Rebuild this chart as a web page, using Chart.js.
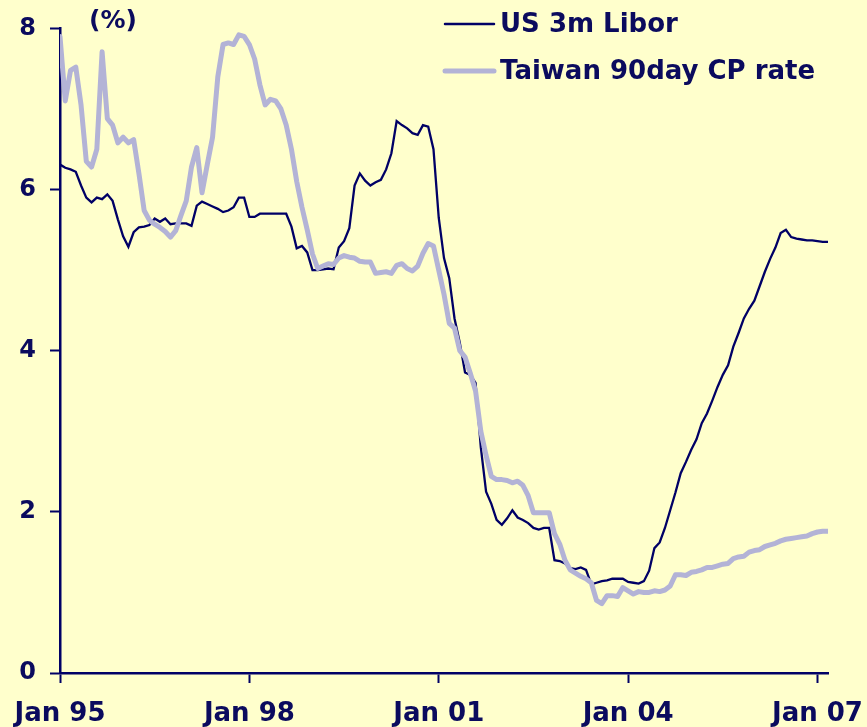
<!DOCTYPE html>
<html>
<head>
<meta charset="utf-8">
<script src="https://cdn.jsdelivr.net/npm/chart.js@4.4.1/dist/chart.umd.min.js"></script>
<style>
  html, body { margin: 0; padding: 0; background: #ffffcc; }
  canvas { display: block; }
</style>
</head>
<body>
<canvas id="chart" width="867" height="727"></canvas>
<script>
// monthly readings, Jan 95 .. Mar 07
var seriesNames = ['US 3m Libor', 'Taiwan 90day CP rate'];
var tickMonths = [0, 36, 72, 108, 144];
var tickLabels = ['Jan 95', 'Jan 98', 'Jan 01', 'Jan 04', 'Jan 07'];
var yTicks = [0, 2, 4, 6, 8];

var libor = [
  6.31, 6.27, 6.25, 6.22, 6.05, 5.90, 5.84, 5.90, 5.88, 5.94, 5.86, 5.63,
  5.42, 5.29, 5.47, 5.53, 5.54, 5.56, 5.64, 5.60, 5.64, 5.57, 5.58, 5.58,
  5.58, 5.55, 5.80, 5.85, 5.82, 5.79, 5.76, 5.72, 5.74, 5.78, 5.90, 5.90,
  5.66, 5.66, 5.70, 5.70, 5.70, 5.70, 5.70, 5.70, 5.54, 5.27, 5.30, 5.22,
  5.00, 5.00, 5.01, 5.02, 5.01, 5.28, 5.36, 5.52, 6.05, 6.20, 6.11, 6.05,
  6.09, 6.12, 6.25, 6.45, 6.85, 6.80, 6.76, 6.70, 6.68, 6.80, 6.78, 6.50,
  5.65, 5.15, 4.90, 4.40, 4.10, 3.73, 3.70, 3.60, 2.80, 2.25, 2.10, 1.90,
  1.84, 1.92, 2.02, 1.93, 1.90, 1.86, 1.80, 1.78, 1.80, 1.80, 1.40, 1.39,
  1.36, 1.30, 1.29, 1.31, 1.28, 1.10, 1.12, 1.14, 1.15, 1.17, 1.17, 1.17,
  1.13, 1.12, 1.11, 1.14, 1.27, 1.55, 1.62, 1.80, 2.02, 2.24, 2.48, 2.62,
  2.77, 2.90, 3.10, 3.22, 3.38, 3.55, 3.70, 3.82, 4.05, 4.22, 4.40, 4.52,
  4.62, 4.80, 4.98, 5.14, 5.28, 5.46, 5.50, 5.41, 5.39, 5.38, 5.37, 5.37,
  5.36, 5.35, 5.35
];

var cpRate = [
  7.90, 7.10, 7.48, 7.52, 7.05, 6.35, 6.28, 6.50, 7.71, 6.88, 6.80, 6.58,
  6.65, 6.58, 6.62, 6.20, 5.74, 5.62, 5.57, 5.53, 5.48, 5.41, 5.49, 5.68,
  5.86, 6.28, 6.52, 5.96, 6.31, 6.65, 7.40, 7.80, 7.82, 7.80, 7.92, 7.90,
  7.80, 7.62, 7.30, 7.05, 7.12, 7.10, 7.00, 6.80, 6.50, 6.10, 5.78, 5.50,
  5.20, 5.02, 5.05, 5.08, 5.07, 5.15, 5.18, 5.16, 5.15, 5.11, 5.10, 5.10,
  4.96, 4.97, 4.98, 4.96, 5.06, 5.08, 5.02, 4.99, 5.05, 5.21, 5.33, 5.30,
  5.00, 4.70, 4.34, 4.28, 4.00, 3.92, 3.72, 3.50, 3.00, 2.70, 2.44, 2.40,
  2.40, 2.39, 2.36, 2.38, 2.33, 2.20, 1.99, 1.99, 1.99, 1.99, 1.73, 1.60,
  1.40, 1.28, 1.24, 1.20, 1.17, 1.12, 0.90, 0.86, 0.96, 0.96, 0.95, 1.06,
  1.02, 0.98, 1.01, 1.00, 1.00, 1.02, 1.01, 1.03, 1.08, 1.22, 1.22, 1.21,
  1.25, 1.26, 1.28, 1.31, 1.31, 1.33, 1.35, 1.36, 1.42, 1.44, 1.45, 1.50,
  1.52, 1.53, 1.57, 1.59, 1.61, 1.64, 1.66, 1.67, 1.68, 1.69, 1.70, 1.73,
  1.75, 1.76, 1.76
];

var navy = '#000066';
var textNavy = '#0b0b5e';
var lavender = '#b3b3d6';
var fontFam = '"DejaVu Sans", Verdana, sans-serif';

function toPoints(arr) {
  return arr.map((v, i) => ({ x: i, y: v }));
}

// legend + (%) label drawn on top
var extras = {
  id: 'extras',
  afterDraw(chart) {
    var ctx = chart.ctx;
    ctx.save();
    ctx.font = 'bold 25px ' + fontFam;
    ctx.fillStyle = textNavy;
    ctx.textBaseline = 'middle';
    ctx.textAlign = 'left';
    ctx.fillText('(%)', 89, 21);

    ctx.font = 'bold 26px ' + fontFam;
    var rows = [
      { name: seriesNames[0], color: navy, width: 2.5, y: 24 },
      { name: seriesNames[1], color: lavender, width: 5, y: 71 }
    ];
    rows.forEach(r => {
      ctx.strokeStyle = r.color;
      ctx.lineWidth = r.width;
      ctx.lineCap = 'round';
      ctx.beginPath();
      ctx.moveTo(445, r.y);
      ctx.lineTo(494, r.y);
      ctx.stroke();
      ctx.fillText(r.name, 500, r.y + 1);
    });
    ctx.restore();
  }
};

var ctx = document.getElementById('chart').getContext('2d');
var chart = new Chart(ctx, {
  type: 'line',
  data: {
    datasets: [
      {
        label: seriesNames[1],
        data: toPoints(cpRate),
        borderColor: lavender,
        borderWidth: 5,
        pointRadius: 0,
        tension: 0,
        borderJoinStyle: 'round',
        borderCapStyle: 'round'
      },
      {
        label: seriesNames[0],
        data: toPoints(libor),
        borderColor: navy,
        borderWidth: 2.3,
        pointRadius: 0,
        tension: 0
      }
    ]
  },
  options: {
    responsive: false,
    animation: false,
    layout: { padding: { top: 23, right: 39, left: 0, bottom: 0 } },
    plugins: {
      legend: { display: false },
      tooltip: { enabled: false }
    },
    scales: {
      x: {
        type: 'linear',
        min: 0,
        max: 146,
        afterBuildTicks: scale => {
          scale.ticks = tickMonths.map(v => ({ value: v }));
        },
        afterFit: scale => {
          scale.height = 54;
          scale.paddingLeft = 0;
          scale.paddingRight = 0;
        },
        ticks: {
          autoSkip: false,
          maxRotation: 0,
          padding: 16,
          color: textNavy,
          font: { family: fontFam, size: 26, weight: 'bold' },
          callback: (v) => tickLabels[tickMonths.indexOf(v)]
        },
        grid: {
          display: true,
          drawOnChartArea: false,
          drawTicks: true,
          tickLength: 10,
          tickWidth: 2,
          tickColor: navy
        },
        border: { display: true, color: navy, width: 2.5 }
      },
      y: {
        min: 0,
        max: 8,
        afterBuildTicks: scale => {
          scale.ticks = yTicks.map(v => ({ value: v }));
        },
        afterFit: scale => {
          scale.width = 60;
        },
        ticks: {
          padding: 14,
          color: textNavy,
          font: { family: fontFam, size: 24, weight: 'bold' }
        },
        grid: {
          display: true,
          drawOnChartArea: false,
          drawTicks: true,
          tickLength: 10,
          tickWidth: 2,
          tickColor: navy
        },
        border: { display: true, color: navy, width: 2.5 }
      }
    }
  },
  plugins: [extras]
});
</script>
</body>
</html>
